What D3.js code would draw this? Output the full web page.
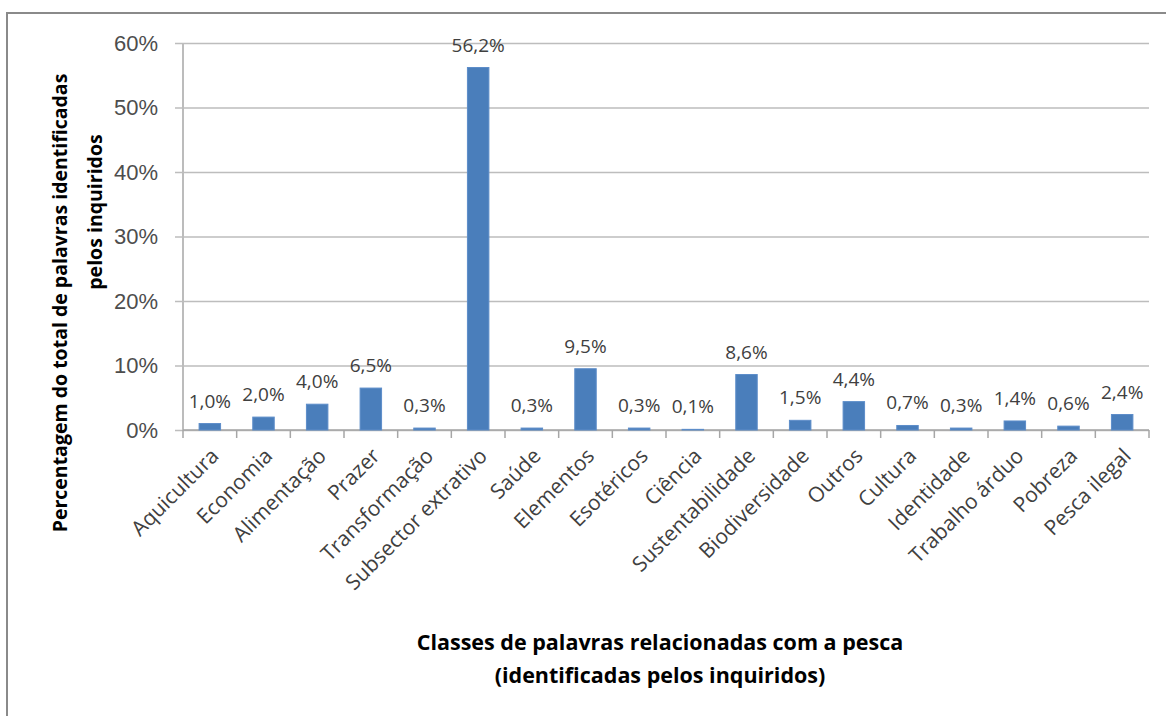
<!DOCTYPE html>
<html>
<head>
<meta charset="utf-8">
<script src="https://cdn.jsdelivr.net/npm/d3@7"></script>
<style>
  body { margin: 0; background: #fff; }
  svg { display: block; font-family: "Open Sans", "Noto Sans", sans-serif; }
</style>
</head>
<body>
<svg id="chart"></svg>
<script>
// categorias e valores (%)
const categories = ['Aquicultura', 'Economia', 'Alimentação', 'Prazer', 'Transformação',
  'Subsector extrativo', 'Saúde', 'Elementos', 'Esotéricos', 'Ciência', 'Sustentabilidade',
  'Biodiversidade', 'Outros', 'Cultura', 'Identidade', 'Trabalho árduo', 'Pobreza', 'Pesca ilegal'];
const values = [1.0, 2.0, 4.0, 6.5, 0.3, 56.2, 0.3, 9.5, 0.3, 0.1, 8.6, 1.5, 4.4, 0.7, 0.3, 1.4, 0.6, 2.4];
const yTicks = [0, 10, 20, 30, 40, 50, 60];
const yTitle = ['Percentagem do total de palavras identificadas', 'pelos inquiridos'];
const xTitle = ['Classes de palavras relacionadas com a pesca', '(identificadas pelos inquiridos)'];

const W = 1166, H = 716;
const svg = d3.select('#chart').attr('width', W).attr('height', H);

// moldura
svg.append('rect').attr('x', 7).attr('y', 13).attr('width', 1200).attr('height', 800)
  .attr('fill', '#fff').attr('stroke', '#8a8a8a').attr('stroke-width', 2);

let mLeft = 183, mRight = 1149, mTop = 43, mBottom = 430;

let x = d3.scaleBand().domain(categories).range([mLeft, mRight]).paddingInner(0.6).paddingOuter(0.3);
let y = d3.scaleLinear().domain([0, 60]).range([mBottom, mTop]);

// grelha + eixo y
let gy = svg.append('g').attr('transform', `translate(${mLeft},0)`)
  .call(d3.axisLeft(y).tickValues(yTicks).tickFormat(d => d + '%').tickSize(8).tickPadding(17));
gy.select('.domain').attr('stroke', '#a6a6a6').attr('stroke-width', 1.5).attr('d', `M0,${mTop}V${mBottom}`);
gy.selectAll('.tick line').attr('stroke', '#bdbdbd').attr('stroke-width', 1.5)
  .attr('x1', -8).attr('x2', mRight - mLeft);
gy.selectAll('.tick text').attr('fill', '#4d4d4d').attr('font-size', 22);

// eixo x
let step = (mRight - mLeft) / categories.length;
let gx = svg.append('g').attr('transform', `translate(0,${mBottom})`);
gx.append('line').attr('x1', mLeft).attr('x2', mRight).attr('stroke', '#a6a6a6').attr('stroke-width', 1.5);
gx.selectAll('line.tk').data(d3.range(categories.length + 1)).enter().append('line')
  .attr('class', 'tk')
  .attr('x1', i => mLeft + i * step).attr('x2', i => mLeft + i * step)
  .attr('y1', 0).attr('y2', 8).attr('stroke', '#a6a6a6').attr('stroke-width', 1.5);

gx.selectAll('text.lbl').data(categories).enter().append('text')
  .attr('class', 'lbl')
  .attr('transform', d => `translate(${x(d) + x.bandwidth() / 2 + 5},${22}) rotate(-45)`)
  .attr('text-anchor', 'end')
  .attr('dy', '0.35em')
  .attr('fill', '#404040')
  .attr('font-size', 21)
  .text(d => d);

// barras
svg.selectAll('rect.bar').data(values).enter().append('rect')
  .attr('class', 'bar')
  .attr('x', (d, i) => x(categories[i]))
  .attr('y', d => y(d))
  .attr('width', x.bandwidth())
  .attr('height', d => mBottom - y(d))
  .attr('fill', '#4a7ebb')
  .attr('stroke', '#5d8dc9')
  .attr('stroke-width', 1);

// rótulos de dados
svg.selectAll('text.val').data(values).enter().append('text')
  .attr('class', 'val')
  .attr('x', (d, i) => x(categories[i]) + x.bandwidth() / 2)
  .attr('y', d => y(d) - 16)
  .attr('text-anchor', 'middle')
  .attr('fill', '#404040')
  .attr('font-size', 19)
  .text(d => d.toFixed(1).replace('.', ',') + '%');

// títulos dos eixos
svg.append('text').attr('font-weight', 'bold').attr('font-size', 19.5).attr('fill', '#000')
  .attr('text-anchor', 'middle').attr('transform', 'translate(67,303) rotate(-90)')
  .text(yTitle[0]);
svg.append('text').attr('font-weight', 'bold').attr('font-size', 19.5).attr('fill', '#000')
  .attr('text-anchor', 'middle').attr('transform', 'translate(102,212) rotate(-90)')
  .text(yTitle[1]);

svg.selectAll('text.xt').data(xTitle).enter().append('text')
  .attr('class', 'xt')
  .attr('x', 660).attr('y', (d, i) => 650 + i * 33)
  .attr('text-anchor', 'middle')
  .attr('font-weight', 'bold').attr('font-size', 21.5).attr('fill', '#000')
  .text(d => d);
</script>
</body>
</html>
